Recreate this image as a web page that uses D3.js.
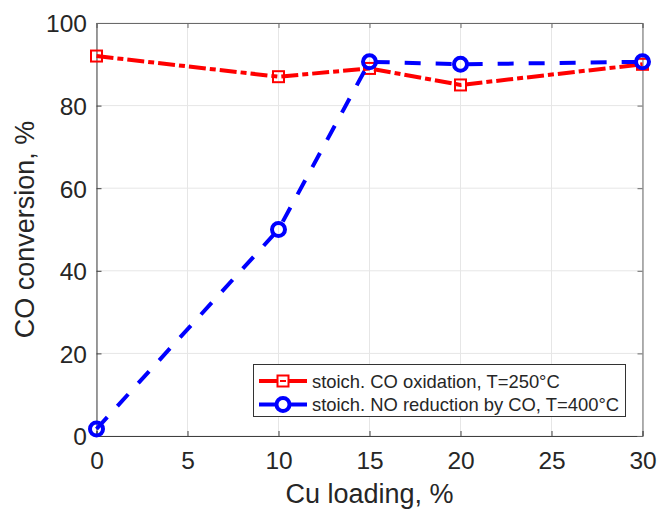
<!DOCTYPE html>
<html><head><meta charset="utf-8">
<script src="https://cdn.jsdelivr.net/npm/d3@7"></script>
<style>body{margin:0;background:#fff}svg{display:block}text{font-family:"Liberation Sans",Arial,sans-serif;fill:#262626}</style>
</head><body><svg id="c" width="657" height="510"></svg>
<script>
const cuLoading = [0, 10, 15, 20, 30];
const coOxidation = [92, 87, 89, 85, 90];
const noReduction = [1.7, 50, 90.6, 90, 90.6];
const xTicks = [0, 5, 10, 15, 20, 25, 30];
const yTicks = [0, 20, 40, 60, 80, 100];
const seriesNames = ["stoich. CO oxidation, T=250°C", "stoich. NO reduction by CO, T=400°C"];

const svg = d3.select("#c");
const L = 96.5, R = 642.5, T = 23, B = 436;
const x = d3.scaleLinear().domain([0, 30]).range([L, R]);
const y = d3.scaleLinear().domain([0, 100]).range([B, T]);

// grid
const g = svg.append("g");
g.selectAll("line.vx").data(xTicks).join("line")
  .attr("x1", d => x(d)).attr("x2", d => x(d)).attr("y1", T).attr("y2", B)
  .attr("stroke", "#e6e6e6").attr("stroke-width", 1);
g.selectAll("line.hy").data(yTicks).join("line")
  .attr("y1", d => y(d)).attr("y2", d => y(d)).attr("x1", L).attr("x2", R)
  .attr("stroke", "#e6e6e6").attr("stroke-width", 1);

// axes
const ax = svg.append("g").attr("transform", `translate(0,${B})`)
  .call(d3.axisBottom(x).tickValues(xTicks).tickSize(-5).tickPadding(16));
const ay = svg.append("g").attr("transform", `translate(${L},0)`)
  .call(d3.axisLeft(y).tickValues(yTicks).tickSize(-5).tickPadding(9.5));
const axT = svg.append("g").attr("transform", `translate(0,${T})`)
  .call(d3.axisTop(x).tickValues(xTicks).tickSize(-5).tickFormat(""));
const ayR = svg.append("g").attr("transform", `translate(${R},0)`)
  .call(d3.axisRight(y).tickValues(yTicks).tickSize(-5).tickFormat(""));
[ax, ay].forEach(a => {
  a.selectAll("path,line").attr("stroke", "#404040");
  a.selectAll("text").attr("font-size", 24.5).attr("fill", "#262626")
    .style("font-family", "'Liberation Sans',Arial,sans-serif");
});
[axT, ayR].forEach(a => a.selectAll("path,line").attr("stroke", "#6a6a6a"));
ay.selectAll("text").attr("dy", "0.36em");

// labels
svg.append("text").attr("x", (L + R) / 2).attr("y", 503).attr("text-anchor", "middle")
  .attr("font-size", 27).text("Cu loading, %");
svg.append("text").attr("transform", `translate(33.5,${(T + B) / 2}) rotate(-90)`)
  .attr("text-anchor", "middle").attr("font-size", 27).text("CO conversion, %");

const line = d3.line().x(d => x(d[0])).y(d => y(d[1]));
const redPts = cuLoading.map((c, i) => [c, coOxidation[i]]);
const bluePts = cuLoading.map((c, i) => [c, noReduction[i]]);

svg.append("path").datum(redPts).attr("d", line).attr("fill", "none")
  .attr("stroke", "#ff0000").attr("stroke-width", 4).attr("stroke-dasharray", "17,4,6,4");
svg.selectAll("rect.m").data(redPts).join("rect")
  .attr("x", d => x(d[0]) - 5.5).attr("y", d => y(d[1]) - 5.5)
  .attr("width", 11).attr("height", 11).attr("fill", "none")
  .attr("stroke", "#ff0000").attr("stroke-width", 2);
svg.append("path").datum(bluePts).attr("d", line).attr("fill", "none")
  .attr("stroke", "#0000ff").attr("stroke-width", 4).attr("stroke-dasharray", "16,15");
svg.selectAll("circle.m").data(bluePts).join("circle")
  .attr("cx", d => x(d[0])).attr("cy", d => y(d[1])).attr("r", 6.5)
  .attr("fill", "none").attr("stroke", "#0000ff").attr("stroke-width", 4);

// legend
const lg = svg.append("g");
lg.append("rect").attr("x", 253.5).attr("y", 364.5).attr("width", 372).attr("height", 52)
  .attr("fill", "#fff").attr("stroke", "#333").attr("stroke-width", 1);
const rows = [381, 404.5];
seriesNames.forEach((name, i) => {
  const cy = rows[i];
  lg.append("line").attr("x1", 259).attr("x2", 307).attr("y1", cy).attr("y2", cy)
    .attr("stroke", i === 0 ? "#ff0000" : "#0000ff").attr("stroke-width", 4);
  if (i === 0) {
    lg.append("rect").attr("x", 277.5).attr("y", cy - 5.5).attr("width", 11).attr("height", 11)
      .attr("fill", "#fff").attr("stroke", "#ff0000").attr("stroke-width", 2);
    lg.append("line").attr("x1", 280).attr("x2", 286).attr("y1", cy).attr("y2", cy)
      .attr("stroke", "#ff0000").attr("stroke-width", 2);
  } else {
    lg.append("circle").attr("cx", 283).attr("cy", cy).attr("r", 6.5)
      .attr("fill", "#fff").attr("stroke", "#0000ff").attr("stroke-width", 4);
  }
  lg.append("text").attr("x", 312).attr("y", cy).attr("dy", "0.36em")
    .attr("font-size", 18.4).attr("fill", "#000").text(name);
});
</script></body></html>
